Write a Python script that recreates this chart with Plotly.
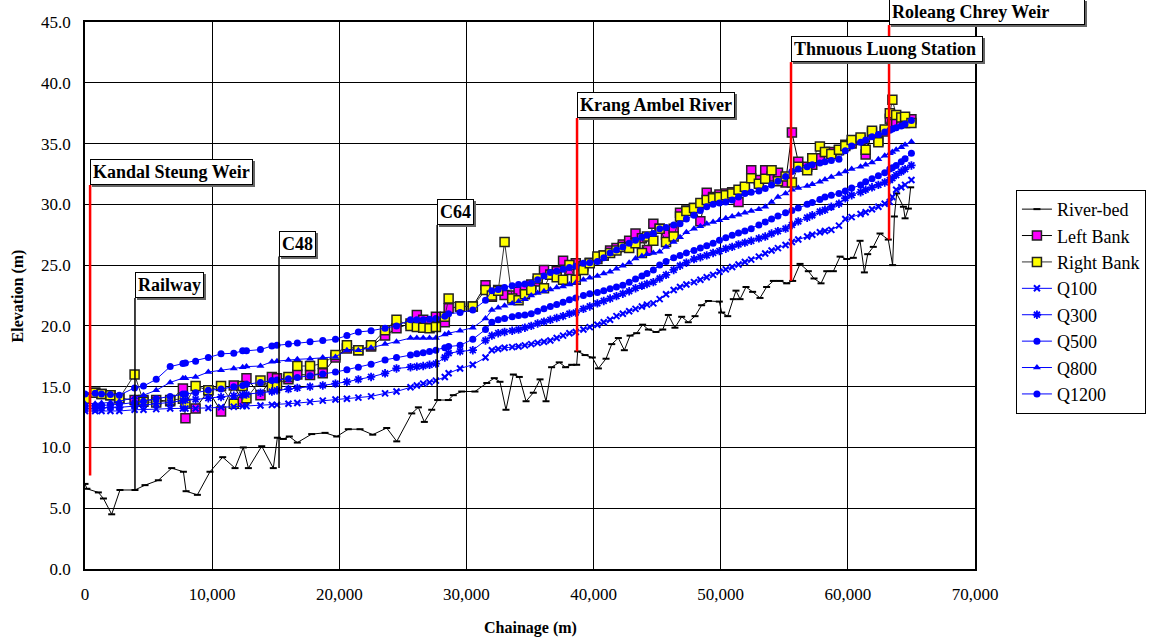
import plotly.graph_objects as go

# ---------------- data ----------------
bed_x = [0, 150, 1050, 1450, 2100, 2750, 3930, 4720, 5770, 6820, 7740, 7950, 8840, 9830,
         10830, 11800, 12450, 12850, 13900, 14810, 15130, 15600, 16070, 16700, 17830, 18880,
         19800, 20710, 21630, 22630, 23730, 24520, 25700, 26220, 26690, 27270, 27740, 28580,
         28970, 29630, 30670, 31600, 32190, 32640, 33110, 33690, 34160, 34690, 35260, 35790,
         36260, 36700, 37300, 37800, 38280, 38670, 38750, 39330, 39900, 40380, 40980, 41430,
         41950, 42420, 42870, 43390, 43860, 44310, 44910, 45440, 45880, 46400, 46930, 47450,
         47980, 48500, 49030, 49890, 50080, 50550, 50990, 51200, 51520, 51990, 52510, 53090,
         53610, 54140, 54660, 55190, 55660, 56240, 56890, 57340, 57890, 58340, 58860, 59390,
         59910, 60430, 60960, 61300, 61560, 62000, 62530, 63180, 63520, 63660, 63840, 64370,
         64500, 64760, 64940]
bed_z = [7.0, 6.6, 6.3, 5.8, 4.5, 6.5, 6.5, 6.9, 7.3, 8.3, 8.0, 6.4, 6.1, 8.0,
         9.2, 8.3, 10.0, 8.3, 10.1, 8.3, 10.8, 10.7, 10.9, 10.4, 11.1, 11.2,
         10.9, 11.5, 11.5, 11.05, 11.6, 10.5, 12.8, 13.3, 12.1, 13.1, 13.9, 13.9,
         14.3, 14.6, 14.6, 15.3, 15.7, 15.4, 13.1, 16.0, 15.8, 13.8, 14.5, 15.6,
         13.8, 16.6, 17.0, 16.6, 16.8, 16.8, 17.9, 17.6, 17.4, 16.5, 17.3, 18.5,
         19.0, 18.0, 19.2, 19.4, 20.1, 19.7, 19.5, 19.7, 20.9, 19.85, 20.75, 20.3,
         20.8, 21.7, 22.05, 22.0, 21.1, 20.8, 22.2, 22.9, 22.2, 23.2, 22.8, 22.3,
         23.2, 23.7, 23.7, 23.5, 23.7, 25.1, 24.5, 23.9, 23.5, 24.5, 24.5, 25.7,
         25.5, 25.6, 27.0, 24.4, 25.9, 26.5, 27.6, 27.1, 25.0, 29.0, 30.9, 29.8,
         28.85, 29.65, 31.4]

chainage = [0, 800, 1300, 2000, 2700, 3900, 4600, 5600, 6700, 7700, 7900, 8700, 9700, 10700,
            11700, 12400, 12700, 13800, 14700, 15100, 16000, 16700, 17700, 18700, 19700, 20600,
            21500, 22500, 23600, 24500, 25600, 26100, 26600, 27100, 27600, 28300, 28600, 29500,
            30500, 31500, 32000, 32500, 33000, 33600, 34100, 34600, 35100, 35600, 36100, 36600,
            37100, 37600, 38100, 38600, 39200, 39700, 40300, 40800, 41300, 41800, 42300, 42800,
            43300, 43800, 44200, 44700, 45200, 45700, 46300, 46800, 47300, 47900, 48400, 48900,
            49400, 49900, 50400, 50900, 51400, 51900, 52400, 53000, 53500, 54000, 54500, 55100,
            55600, 56100, 56800, 57200, 57800, 58200, 58700, 59300, 59800, 60300, 61000, 61400,
            61900, 62400, 62900, 63300, 63500, 63800, 64200, 64500, 65000]

left_bank = [14.1, 14.5, 14.4, 14.3, 14.05, 13.9, 13.9, 13.9, 13.8, 14.85, 12.4, 13.2, 14.7, 12.95,
             15.1, 13.75, 15.7, 14.3, 15.8, 15.7, 15.6, 16.0, 15.95, 16.1, 17.4, 18.15,
             18.0, 18.3, 19.2, 19.8, 20.2, 20.9, 20.5, 20.3, 20.75, 20.3, 21.45, 21.6,
             21.6, 23.35, 22.4, 22.95, 22.55, 22.5, 22.8, 23.1, 23.4, 23.65, 24.6, 24.2,
             24.5, 25.35, 24.6, 25.15, 24.9, 25.2, 25.5, 25.8, 26.2, 26.4, 26.7, 27.0,
             27.6, 27.2, 26.25, 28.4, 28.0, 27.5, 28.0, 29.3, 29.5, 29.7, 28.6, 30.95,
             30.6, 30.8, 30.9, 31.0, 30.2, 31.2, 32.8, 32.0, 32.8, 32.3, 32.6, 31.8,
             35.9, 33.5, 33.1, 33.25, 33.8, 34.3, 34.3, 34.45, 34.9, 35.0, 35.3, 34.1,
             35.9, 35.2, 36.0, 37.05, 36.6, 36.8, 36.7, 36.7, 37.0]
right_bank = [14.0, 14.5, 14.4, 14.3, 14.05, 16.0, 13.75, 13.7, 13.9, 14.0, 13.6, 15.05, 14.7, 15.05,
              13.6, 15.05, 14.05, 15.5, 15.0, 15.1, 15.8, 16.7, 16.7, 16.9, 17.6, 18.4,
              18.0, 18.4, 19.65, 20.5, 20.0, 19.9, 19.85, 19.8, 19.9, 20.75, 22.25, 21.6,
              21.6, 22.95, 22.5, 22.9, 26.9, 22.25, 22.1, 22.6, 22.95, 23.9, 23.1, 24.2,
              24.0, 23.8, 25.0, 23.8, 24.6, 25.15, 25.7, 25.8, 26.0, 26.2, 26.5, 26.4,
              26.8, 26.0, 27.35, 27.0, 28.0, 26.9, 27.35, 29.0, 29.45, 29.7, 30.1, 30.35,
              30.5, 30.6, 30.75, 30.9, 31.2, 31.45, 32.15, 31.7, 32.1, 32.8, 31.9, 32.3,
              31.8, 33.1, 32.8, 33.8, 34.75, 34.3, 34.15, 34.5, 34.8, 35.3, 35.5, 34.5,
              36.05, 35.1, 36.15, 37.5, 38.6, 37.35, 37.15, 37.2, 36.7]
q100 = [13.0, 13.0, 13.0, 13.0, 13.0, 13.1, 13.1, 13.15, 13.2, 13.2, 13.2, 13.2, 13.25, 13.3,
        13.35, 13.4, 13.4, 13.45, 13.5, 13.5, 13.6, 13.65, 13.75, 13.85, 13.95, 14.0,
        14.1, 14.2, 14.45, 14.6, 14.95, 15.1, 15.25, 15.35, 15.5, 15.8, 16.1, 16.5,
        16.8, 17.4, 18.0, 18.1, 18.2, 18.25, 18.3, 18.4, 18.5, 18.6, 18.7, 18.8,
        19.0, 19.2, 19.4, 19.5, 19.7, 19.9, 20.1, 20.3, 20.5, 20.8, 21.0, 21.2,
        21.4, 21.6, 21.75, 21.85, 22.2, 22.6, 22.95, 23.2, 23.4, 23.6, 23.8, 24.0,
        24.2, 24.45, 24.65, 24.85, 25.05, 25.25, 25.45, 25.7, 25.95, 26.2, 26.4, 26.65,
        26.9, 27.1, 27.35, 27.5, 27.7, 27.8, 27.9, 28.25, 28.8, 28.95, 29.2, 29.35,
        29.6, 29.8, 30.05, 30.2, 30.6, 31.2, 31.4, 31.6, 32.0]
q300 = [13.2, 13.2, 13.25, 13.3, 13.3, 13.4, 13.5, 13.6, 13.7, 13.85, 13.9, 13.95, 14.05, 14.15,
        14.25, 14.3, 14.35, 14.5, 14.6, 14.7, 14.8, 14.9, 15.0, 15.1, 15.25, 15.4,
        15.6, 15.8, 16.1, 16.5, 16.6, 16.65, 16.7, 16.8, 16.9, 17.4, 17.75, 17.9,
        18.0, 18.8, 19.2, 19.4, 19.5, 19.6, 19.7, 19.85, 20.0, 20.2, 20.35, 20.5,
        20.65, 20.8, 21.0, 21.1, 21.4, 21.6, 21.85, 22.05, 22.25, 22.45, 22.65, 22.85,
        23.1, 23.3, 23.45, 23.6, 23.9, 24.2, 24.6, 24.95, 25.2, 25.5, 25.65, 25.8,
        26.0, 26.15, 26.35, 26.5, 26.7, 26.85, 27.0, 27.2, 27.35, 27.6, 27.8, 28.0,
        28.3, 28.6, 28.9, 29.1, 29.4, 29.55, 29.8, 30.05, 30.5, 30.75, 31.0, 31.2,
        31.4, 31.6, 31.8, 32.0, 32.15, 32.4, 32.7, 32.9, 33.2]
q500 = [13.4, 13.4, 13.45, 13.5, 13.55, 13.7, 13.8, 14.0, 14.2, 14.4, 14.4, 14.5, 14.7, 14.8,
        15.0, 15.1, 15.2, 15.35, 15.5, 15.55, 15.65, 15.75, 15.9, 16.05, 16.2, 16.4,
        16.6, 16.85, 17.2, 17.4, 17.6, 17.7, 17.8, 17.9, 18.0, 18.2, 18.3, 18.4,
        18.9, 19.7, 20.3, 20.5, 20.6, 20.75, 20.85, 20.9, 21.0, 21.2, 21.4, 21.6,
        21.75, 21.95, 22.15, 22.3, 22.5, 22.65, 22.75, 22.9, 23.05, 23.2, 23.35, 23.6,
        23.85, 24.1, 24.3, 24.6, 25.0, 25.3, 25.6, 25.8, 26.0, 26.2, 26.4, 26.6,
        26.8, 27.05, 27.25, 27.45, 27.65, 27.8, 28.0, 28.3, 28.55, 28.8, 29.05, 29.3,
        29.5, 29.7, 30.0, 30.15, 30.4, 30.6, 30.75, 30.9, 31.1, 31.35, 31.6, 31.85,
        32.1, 32.35, 32.6, 32.9, 33.0, 33.2, 33.5, 33.75, 34.2]
q800 = [13.6, 13.6, 13.65, 13.7, 13.8, 14.1, 14.3, 14.7, 15.35, 15.7, 15.7, 15.8, 16.2, 16.35,
        16.5, 16.6, 16.65, 16.7, 17.05, 17.1, 17.2, 17.25, 17.3, 17.4, 17.45, 18.0,
        18.0, 18.2, 18.5, 18.7, 19.0, 19.0, 19.0, 19.0, 19.0, 19.3, 19.4, 19.6,
        19.85, 20.6, 21.3, 21.5, 21.65, 21.85, 22.0, 22.2, 22.5, 22.7, 22.85, 23.0,
        23.15, 23.25, 23.4, 23.55, 23.8, 23.95, 24.1, 24.3, 24.45, 24.7, 24.95, 25.2,
        25.55, 25.75, 25.9, 26.0, 26.1, 26.5, 26.9, 27.3, 27.7, 28.0, 28.2, 28.4,
        28.55, 28.7, 28.85, 29.0, 29.15, 29.3, 29.45, 29.6, 29.8, 30.2, 30.6, 30.9,
        31.2, 31.35, 31.5, 31.65, 31.85, 32.05, 32.25, 32.5, 32.7, 32.9, 33.1, 33.25,
        33.45, 33.7, 34.0, 34.2, 34.3, 34.5, 34.7, 34.9, 35.15]
q1200 = [14.4, 14.45, 14.4, 14.35, 14.3, 14.9, 15.05, 15.6, 16.65, 16.9, 16.95, 17.1, 17.4, 17.7,
         17.75, 17.95, 17.95, 18.05, 18.35, 18.4, 18.5, 18.6, 18.7, 18.8, 18.9, 19.2,
         19.5, 19.6, 19.8, 20.0, 20.5, 20.5, 20.5, 20.55, 20.6, 20.8, 21.0, 21.1,
         21.3, 22.1, 22.9, 23.0, 23.15, 23.3, 23.4, 23.45, 23.5, 23.8, 24.1, 24.4,
         24.5, 24.65, 24.8, 24.9, 25.15, 25.2, 25.3, 25.6, 26.0, 26.25, 26.5, 26.8,
         27.05, 27.3, 27.45, 27.6, 28.0, 28.1, 28.3, 28.4, 28.8, 29.1, 29.5, 29.8,
         30.0, 30.1, 30.2, 30.35, 30.6, 30.9, 31.0, 31.1, 31.3, 31.6, 31.9, 32.3,
         32.7, 32.9, 33.1, 33.25, 33.4, 33.5, 33.6, 33.7, 34.4, 34.8, 35.1, 35.3,
         35.55, 35.75, 35.95, 36.1, 36.2, 36.3, 36.45, 36.6, 36.9]

# structures along the river (chainage, label, lower and upper elevation of marker line)
struct_names = ["Kandal Steung Weir", "Railway", "C48", "C64", "Krang Ambel River",
                "Thnuous Luong Station", "Roleang Chrey Weir"]
struct_x = [400, 3930, 15260, 27700, 38700, 55530, 63240]
struct_low = [7.7, 6.5, 8.3, 13.9, 17.9, 23.7, 27.1]
struct_high = [31.6, 22.3, 25.7, 28.3, 37.1, 41.7, 44.75]
struct_red = [True, False, False, False, True, True, True]

x_ticks = [0, 10000, 20000, 30000, 40000, 50000, 60000, 70000]
y_ticks = [0, 5, 10, 15, 20, 25, 30, 35, 40, 45]

# ---------------- figure ----------------
FONT = "Liberation Serif, Times New Roman, serif"
BLUE = "#0000FF"
BOX_WIDTH = {"Roleang Chrey Weir": 190, "Thnuous Luong Station": 186}

fig = go.Figure()
fig.add_trace(go.Scatter(x=bed_x, y=bed_z, name="River-bed", mode="lines+markers",
                         line=dict(color="black", width=1),
                         marker=dict(symbol="line-ew", size=5, color="black",
                                     line=dict(color="black", width=2))))
fig.add_trace(go.Scatter(x=chainage, y=left_bank, name="Left Bank", mode="lines+markers",
                         line=dict(color="black", width=1),
                         marker=dict(symbol="square", size=9, color="#FF00FF",
                                     line=dict(color="#222222", width=1.5))))
fig.add_trace(go.Scatter(x=chainage, y=right_bank, name="Right Bank", mode="lines+markers",
                         line=dict(color="#333333", width=1),
                         marker=dict(symbol="square", size=9, color="#FFFF00",
                                     line=dict(color="#222222", width=1.5))))
fig.add_trace(go.Scatter(x=chainage, y=q100, name="Q100", mode="lines+markers",
                         line=dict(color=BLUE, width=1),
                         marker=dict(symbol="x-thin-open", size=6, color=BLUE,
                                     line=dict(color=BLUE, width=2))))
fig.add_trace(go.Scatter(x=chainage, y=q300, name="Q300", mode="lines+markers",
                         line=dict(color=BLUE, width=1),
                         marker=dict(symbol="asterisk-open", size=7, color=BLUE,
                                     line=dict(color=BLUE, width=1.8))))
fig.add_trace(go.Scatter(x=chainage, y=q500, name="Q500", mode="lines+markers",
                         line=dict(color=BLUE, width=1),
                         marker=dict(symbol="circle", size=7, color=BLUE)))
fig.add_trace(go.Scatter(x=chainage, y=q800, name="Q800", mode="lines+markers",
                         line=dict(color=BLUE, width=1),
                         marker=dict(symbol="triangle-up", size=7, color=BLUE)))
fig.add_trace(go.Scatter(x=chainage, y=q1200, name="Q1200", mode="lines+markers",
                         line=dict(color=BLUE, width=1),
                         marker=dict(symbol="circle", size=7, color=BLUE)))

shapes = []
annotations = []
for name, sx, lo, hi, red in zip(struct_names, struct_x, struct_low, struct_high, struct_red):
    shapes.append(dict(type="line", xref="x", yref="y", x0=sx, x1=sx, y0=lo, y1=hi,
                       line=dict(color="#FF0000" if red else "black", width=2.5 if red else 1.5),
                       layer="above"))
    extra = {}
    if name in BOX_WIDTH:
        extra = dict(width=BOX_WIDTH[name], align="left")
    # shadow
    annotations.append(dict(x=sx, y=hi, xref="x", yref="y", text="<b>%s</b>" % name,
                            showarrow=False, xanchor="left", yanchor="bottom",
                            xshift=2, yshift=-2,
                            font=dict(family=FONT, size=18, color="#666666"),
                            bgcolor="#666666", bordercolor="#666666", borderwidth=1, borderpad=2,
                            **extra))
    annotations.append(dict(x=sx, y=hi, xref="x", yref="y", text="<b>%s</b>" % name,
                            showarrow=False, xanchor="left", yanchor="bottom",
                            font=dict(family=FONT, size=18, color="black"),
                            bgcolor="white", bordercolor="black", borderwidth=1, borderpad=2,
                            **extra))

# axis titles
annotations.append(dict(x=0.5, y=-0.108, xref="paper", yref="paper", text="<b>Chainage (m)</b>",
                        showarrow=False, xanchor="center", yanchor="middle",
                        font=dict(family=FONT, size=16, color="black")))
annotations.append(dict(x=-0.0753, y=0.5, xref="paper", yref="paper", text="<b>Elevation (m)</b>",
                        showarrow=False, xanchor="center", yanchor="middle", textangle=-90,
                        font=dict(family=FONT, size=16, color="black")))

fig.update_layout(
    width=1149, height=639,
    margin=dict(l=85, r=174, t=22, b=70, autoexpand=False),
    paper_bgcolor="white", plot_bgcolor="white",
    font=dict(family=FONT, size=17, color="black"),
    showlegend=True,
    legend=dict(x=1.046, y=0.693, xanchor="left", yanchor="top",
                bgcolor="white", bordercolor="black", borderwidth=1,
                font=dict(family=FONT, size=18, color="black"),
                itemwidth=30, tracegroupgap=0),
    shapes=shapes,
    annotations=annotations,
)
fig.update_xaxes(range=[0, 70000], tickvals=x_ticks, tickformat=",d",
                 showgrid=True, gridcolor="black", gridwidth=1,
                 showline=True, linecolor="black", linewidth=1.5, mirror=True,
                 zeroline=False, ticks="", ticklabelstandoff=9, automargin=False,
                 tickfont=dict(family=FONT, size=17))
fig.update_yaxes(range=[0, 45], tickvals=y_ticks, tickformat=".1f",
                 showgrid=True, gridcolor="black", gridwidth=1,
                 showline=True, linecolor="black", linewidth=1.5, mirror=True,
                 zeroline=False, ticks="", ticklabelstandoff=9, automargin=False,
                 tickfont=dict(family=FONT, size=17))

fig.write_html("out.html", config={"displayModeBar": False},
               post_script="document.body.style.margin='0';document.body.style.overflow='hidden';")
